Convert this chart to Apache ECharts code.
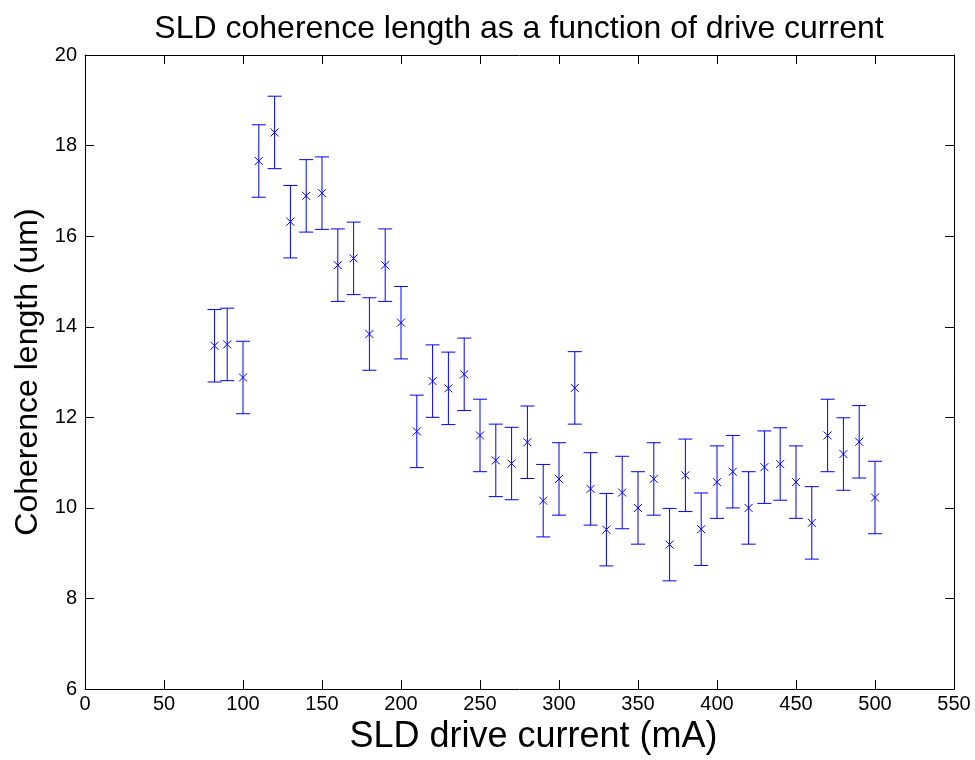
<!DOCTYPE html>
<html>
<head>
<meta charset="utf-8">
<title>SLD coherence length</title>
<script src="https://cdn.jsdelivr.net/npm/echarts@6/dist/echarts.min.js"></script>
<style>
  html, body { margin: 0; padding: 0; background: #ffffff; }
  #chart { width: 975px; height: 760px; }
</style>
</head>
<body>
<div id="chart"></div>
<script>
// Drive current (mA)
const current = [82, 90, 100, 110, 120, 130, 140, 150, 160, 170, 180, 190, 200, 210, 220,
  230, 240, 250, 260, 270, 280, 290, 300, 310, 320, 330, 340, 350, 360, 370, 380, 390,
  400, 410, 420, 430, 440, 450, 460, 470, 480, 490, 500];
// Measured coherence length (um)
const coherence = [13.58, 13.61, 12.88, 17.66, 18.29, 16.32, 16.89, 16.95, 15.36, 15.51,
  13.84, 15.36, 14.09, 11.69, 12.80, 12.64, 12.95, 11.60, 11.05, 10.98, 11.45, 10.16,
  10.64, 12.65, 10.42, 9.52, 10.34, 10.00, 10.64, 9.19, 10.72, 9.53, 10.57, 10.80,
  10.00, 10.90, 10.97, 10.57, 9.67, 11.60, 11.19, 11.46, 10.23];
// Uncertainty (um), symmetric
const uncertainty = [0.8, 0.8, 0.8, 0.8, 0.8, 0.8, 0.8, 0.8, 0.8, 0.8, 0.8, 0.8, 0.8,
  0.8, 0.8, 0.8, 0.8, 0.8, 0.8, 0.8, 0.8, 0.8, 0.8, 0.8, 0.8, 0.8, 0.8, 0.8, 0.8, 0.8,
  0.8, 0.8, 0.8, 0.8, 0.8, 0.8, 0.8, 0.8, 0.8, 0.8, 0.8, 0.8, 0.8];
const xTicks = [0, 50, 100, 150, 200, 250, 300, 350, 400, 450, 500, 550];
const yTicks = [6, 8, 10, 12, 14, 16, 18, 20];

const FONT = '"Liberation Sans", Arial, Helvetica, sans-serif';
const BLUE = '#0000ff';

const rows = current.map((x, i) => [x, coherence[i], coherence[i] - uncertainty[i], coherence[i] + uncertainty[i]]);

const chart = echarts.init(document.getElementById('chart'), null, { renderer: 'canvas' });

// Vertical error bar with end caps and an "x" marker at the measured value
function errorBar(params, api) {
  const x = api.value(0);
  const c = api.coord([x, api.value(1)]);
  const lo = api.coord([x, api.value(2)]);
  const hi = api.coord([x, api.value(3)]);
  const cap = 7;
  const m = 4;
  const style = { stroke: BLUE, lineWidth: 1, fill: null };
  return {
    type: 'group',
    children: [
      { type: 'line', shape: { x1: lo[0], y1: lo[1], x2: hi[0], y2: hi[1] }, style },
      { type: 'line', shape: { x1: hi[0] - cap, y1: hi[1], x2: hi[0] + cap, y2: hi[1] }, style },
      { type: 'line', shape: { x1: lo[0] - cap, y1: lo[1], x2: lo[0] + cap, y2: lo[1] }, style },
      { type: 'line', shape: { x1: c[0] - m, y1: c[1] - m, x2: c[0] + m, y2: c[1] + m }, style },
      { type: 'line', shape: { x1: c[0] - m, y1: c[1] + m, x2: c[0] + m, y2: c[1] - m }, style }
    ]
  };
}

const axisCommon = {
  axisLine: { show: true, onZero: false, lineStyle: { color: '#000', width: 1 } },
  axisTick: { show: true, inside: true, length: 9, lineStyle: { color: '#000', width: 1 } },
  splitLine: { show: false }
};

chart.setOption({
  animation: false,
  backgroundColor: '#ffffff',
  title: {
    text: 'SLD coherence length as a function of drive current',
    left: 514,
    top: 8,
    textAlign: 'center',
    textStyle: { fontFamily: FONT, fontSize: 32, fontWeight: 'normal', color: '#000' }
  },
  grid: { left: 85, right: 21, top: 55, bottom: 68, containLabel: false },
  xAxis: [
    Object.assign({
      type: 'value', min: xTicks[0], max: xTicks[xTicks.length - 1], interval: 50,
      position: 'bottom',
      name: 'SLD drive current (mA)', nameLocation: 'middle', nameGap: 24,
      nameTextStyle: { fontFamily: FONT, fontSize: 36, color: '#000', verticalAlign: 'top', padding: [0, 0, 0, 28] },
      axisLabel: { fontFamily: FONT, fontSize: 20, color: '#000', margin: 5 }
    }, axisCommon),
    Object.assign({
      type: 'value', min: xTicks[0], max: xTicks[xTicks.length - 1], interval: 50,
      position: 'top', axisLabel: { show: false }
    }, axisCommon)
  ],
  yAxis: [
    Object.assign({
      type: 'value', min: yTicks[0], max: yTicks[yTicks.length - 1], interval: 2,
      position: 'left',
      name: 'Coherence length (um)', nameLocation: 'middle', nameGap: 41,
      nameTextStyle: { fontFamily: FONT, fontSize: 32, color: '#000' },
      axisLabel: { fontFamily: FONT, fontSize: 20, color: '#000', margin: 8 }
    }, axisCommon),
    Object.assign({
      type: 'value', min: yTicks[0], max: yTicks[yTicks.length - 1], interval: 2,
      position: 'right', axisLabel: { show: false }
    }, axisCommon)
  ],
  series: [{
    type: 'custom',
    renderItem: errorBar,
    encode: { x: 0, y: [1, 2, 3] },
    data: rows,
    clip: false
  }]
});
</script>
</body>
</html>
